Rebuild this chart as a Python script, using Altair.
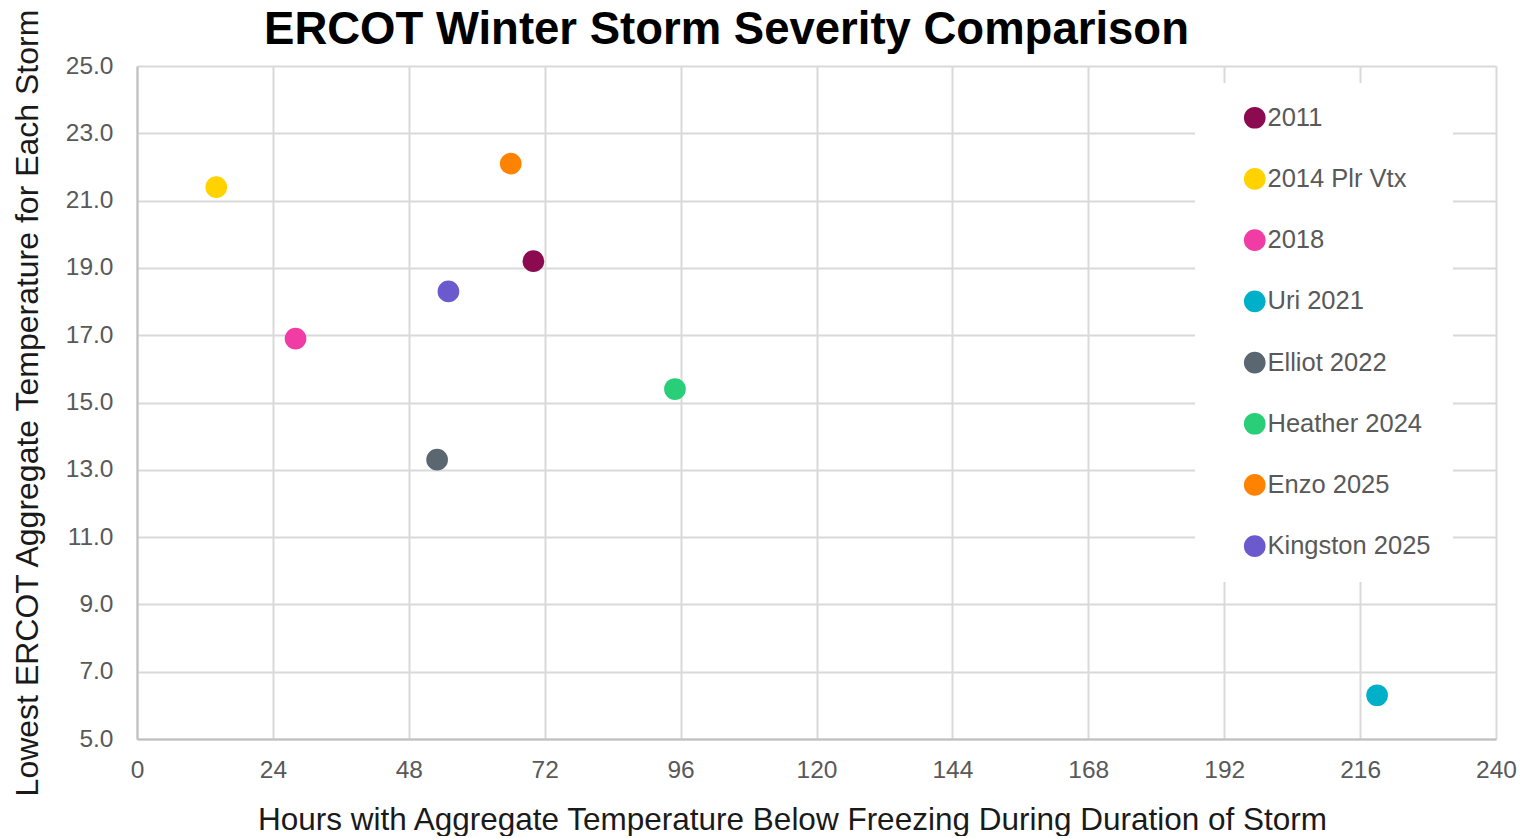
import altair as alt
import pandas as pd

storms = ["2011", "2014 Plr Vtx", "2018", "Uri 2021", "Elliot 2022",
          "Heather 2024", "Enzo 2025", "Kingston 2025"]
hours_below_freezing = [70, 14, 28, 219, 53, 95, 66, 55]
lowest_temp = [19.2, 21.4, 16.9, 6.3, 13.3, 15.4, 22.1, 18.3]
colors = ["#8B0A50", "#FFD200", "#F03CA4", "#00B0C8", "#5A6670",
          "#28CF78", "#FF8300", "#6A5ACD"]
x_ticks = list(range(0, 241, 24))
y_ticks = [5, 7, 9, 11, 13, 15, 17, 19, 21, 23, 25]

df = pd.DataFrame({"Storm": storms, "Hours": hours_below_freezing, "Temp": lowest_temp})

FONT = "Liberation Sans"

chart = alt.Chart(df).mark_circle(size=470, opacity=1).encode(
    x=alt.X("Hours:Q",
            scale=alt.Scale(domain=[0, 240], nice=False),
            axis=alt.Axis(values=x_ticks, labelFlush=False,
                          title="Hours with Aggregate Temperature Below Freezing During Duration of Storm",
                          titleX=655, titleAnchor="middle")),
    y=alt.Y("Temp:Q",
            scale=alt.Scale(domain=[5, 25], nice=False, zero=False),
            axis=alt.Axis(values=y_ticks, format=".1f", titleFontSize=32, labelFlush=False,
                          title="Lowest ERCOT Aggregate Temperature for Each Storm")),
    color=alt.Color("Storm:N", sort=storms,
                    scale=alt.Scale(domain=storms, range=colors),
                    legend=alt.Legend(title=None, orient="none", legendX=1058, legendY=17,
                                      fillColor="white", padding=22, symbolOffset=25,
                                      symbolType="circle", symbolSize=470,
                                      labelFontSize=25.5, labelColor="#595959", labelFont=FONT,
                                      labelOffset=0, rowPadding=34.2, symbolStrokeWidth=0,
                                      labelLimit=400)),
).properties(
    width=1359, height=673,
    title=alt.TitleParams("ERCOT Winter Storm Severity Comparison", anchor="middle", frame="group",
                          dx=-90, dy=50, fontSize=45.5, font=FONT, fontWeight="bold", color="#000000",
                          offset=4),
    autosize=alt.AutoSizeParams(type="none"),
    padding={"left": 129, "top": 58, "right": 26, "bottom": 97},
).configure_view(stroke=None).configure_axis(
    grid=True, gridColor="#D9D9D9", gridWidth=2, domainColor="#BFBFBF", domainWidth=2,
    ticks=False, labelFontSize=24.5, labelColor="#595959", labelFont=FONT,
    titleFont=FONT, titleFontSize=31.5, titleColor="#1a1a1a", titleFontWeight="normal",
).configure_axisX(labelPadding=19, titlePadding=23).configure_axisY(labelPadding=24, titlePadding=21)

chart.save("out.html", embed_options={"renderer": "svg", "actions": False})
